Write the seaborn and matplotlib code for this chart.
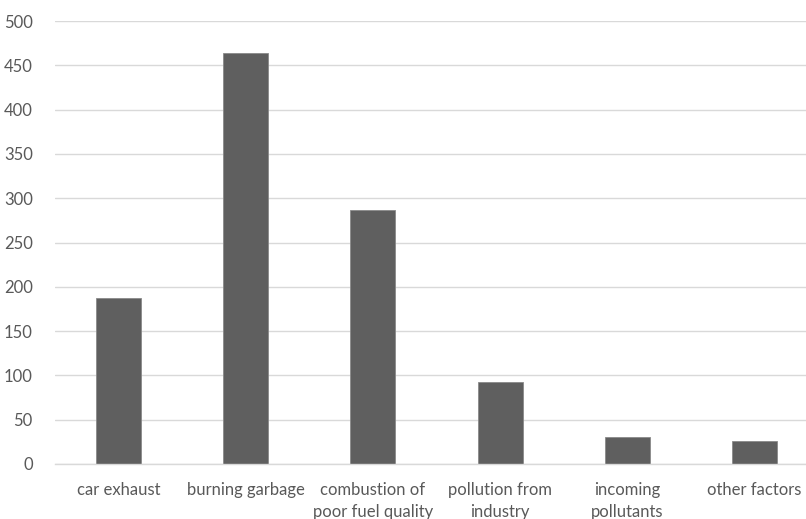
import matplotlib
matplotlib.use("Agg")
import matplotlib.pyplot as plt
import seaborn as sns
import pandas as pd

categories = ["car exhaust", "burning garbage", "combustion of\npoor fuel quality",
              "pollution from\nindustry", "incoming\npollutants", "other factors"]
values = [187, 464, 287, 93, 30, 26]
y_ticks = [0, 50, 100, 150, 200, 250, 300, 350, 400, 450, 500]

sns.set_theme(style="white")
plt.rcParams['font.family'] = ['Lato', 'DejaVu Sans']

df = pd.DataFrame({"cat": categories, "val": values})

fig = plt.figure(figsize=(8.06, 5.19), dpi=100)
ax = fig.add_axes([55/806, 1 - 464/519, 763/806, 443/519])
sns.barplot(data=df, x="cat", y="val", color="#5f5f5f", saturation=1,
            width=0.353, edgecolor="#8a8a8a", linewidth=0.6, ax=ax)
ax.set_ylim(0, 500)
ax.set_yticks(y_ticks)
ax.set_xlim(-0.5, 5.5)
ax.yaxis.grid(True, color="#d9d9d9", linewidth=1)
ax.set_axisbelow(True)
for s in ["top", "right", "left"]:
    ax.spines[s].set_visible(False)
ax.spines["bottom"].set_color("#d9d9d9")
ax.spines["bottom"].set_linewidth(1)
ax.set_xlabel("")
ax.set_ylabel("")
ax.tick_params(axis="both", length=0, colors="#595959", labelsize=12)
ax.tick_params(axis="y", pad=16)
ax.tick_params(axis="x", pad=13)
for lab in ax.get_xticklabels():
    lab.set_linespacing(1.45)

fig.savefig("out.png", dpi=100)
